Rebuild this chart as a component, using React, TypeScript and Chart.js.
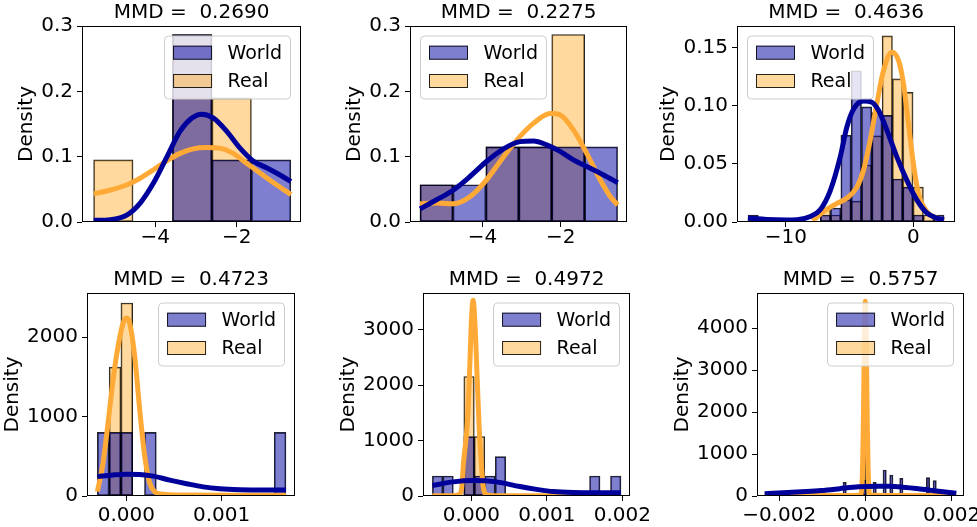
import React, { useEffect, useRef } from "react";
import { Chart, registerables } from "chart.js";

Chart.register(...registerables);

const PAGE_W = 977;
const PAGE_H = 527;
const FAMILY = '"DejaVu Sans", "Liberation Sans", sans-serif';
const FS = 20;
const FS_LEGEND = 19;
const Y_BOX = 70;
const X_BOX = 30;
const TICK_LEN = 5;
const TICK_PAD = 4;

const WORLD_FILL = "rgba(0, 0, 160, 0.5)";
const REAL_FILL = "rgba(255, 170, 40, 0.45)";
const WORLD_LINE = "#00009a";
const REAL_LINE = "#ffaa37";
const EDGE = "rgba(0, 0, 0, 0.85)";

const legendLabels = ["World", "Real"];

// ---------------- Panel 1 ----------------
const p1Title = "MMD =  0.2690";
const p1XTicks = [-4, -2];
const p1XTickLabels = ["\u22124", "\u22122"];
const p1YTicks = [0, 0.1, 0.2, 0.3];
const p1YTickLabels = ["0.0", "0.1", "0.2", "0.3"];
const p1BinStart = -5.512;
const p1BinWidth = 0.9676;
const p1World = [0, 0, 0.287, 0.095, 0.095];
const p1Real = [0.095, 0, 0.287, 0.19, 0];
const p1WorldKdeX = [-5.51, -5.1, -4.69, -4.37, -4.04, -3.71, -3.39, -3.1, -2.86, -2.57, -2.25, -1.92, -1.59, -1.27, -0.94, -0.67];
const p1WorldKdeY = [0.0025, 0.0036, 0.011, 0.029, 0.06, 0.1, 0.139, 0.159, 0.165, 0.159, 0.139, 0.113, 0.093, 0.083, 0.072, 0.062];
const p1RealKdeX = [-5.51, -5.1, -4.69, -4.37, -4.04, -3.71, -3.39, -3.07, -2.74, -2.41, -2.09, -1.76, -1.43, -1.1, -0.67];
const p1RealKdeY = [0.043, 0.049, 0.057, 0.067, 0.08, 0.094, 0.105, 0.112, 0.114, 0.113, 0.105, 0.09, 0.075, 0.06, 0.042];

// ---------------- Panel 2 ----------------
const p2Title = "MMD =  0.2275";
const p2XTicks = [-4, -2];
const p2XTickLabels = ["\u22124", "\u22122"];
const p2YTicks = [0, 0.1, 0.2, 0.3];
const p2YTickLabels = ["0.0", "0.1", "0.2", "0.3"];
const p2BinStart = -5.591;
const p2BinWidth = 0.8397;
const p2World = [0.057, 0.057, 0.115, 0.115, 0.115, 0.115];
const p2Real = [0.057, 0, 0.115, 0.115, 0.287, 0];
const p2WorldKdeX = [-5.59, -5.17, -4.74, -4.31, -3.89, -3.46, -3.04, -2.7, -2.36, -2.02, -1.68, -1.34, -0.91, -0.55];
const p2WorldKdeY = [0.02, 0.034, 0.049, 0.07, 0.093, 0.112, 0.123, 0.124, 0.118, 0.108, 0.095, 0.085, 0.072, 0.06];
const p2RealKdeX = [-5.59, -5.17, -4.74, -4.31, -3.89, -3.46, -3.04, -2.7, -2.27, -2.02, -1.68, -1.34, -1.0, -0.74, -0.55];
const p2RealKdeY = [0.028, 0.029, 0.028, 0.039, 0.065, 0.1, 0.131, 0.151, 0.166, 0.164, 0.141, 0.105, 0.065, 0.039, 0.026];

// ---------------- Panel 3 ----------------
const p3Title = "MMD =  0.4636";
const p3XTicks = [-10, 0];
const p3XTickLabels = ["\u221210", "0"];
const p3YTicks = [0, 0.05, 0.1, 0.15];
const p3YTickLabels = ["0.00", "0.05", "0.10", "0.15"];
const p3BinStart = -12.977;
const p3BinWidth = 0.8094;
const p3World = [0.006, 0, 0, 0, 0, 0, 0, 0.006, 0.012, 0.0746, 0.13, 0.099, 0.094, 0.0916, 0.037, 0.03, 0.006, 0, 0.006];
const p3Real = [0, 0, 0, 0, 0, 0, 0, 0.012, 0.006, 0.019, 0.018, 0.049, 0.074, 0.16, 0.123, 0.1115, 0.03, 0.006, 0];
const p3WorldKdeX = [-12.98, -11.5, -10.0, -9.13, -8.09, -7.31, -6.52, -5.74, -5.22, -4.7, -3.91, -3.26, -2.74, -2.08, -1.3, -0.52, 0.27, 1.05, 1.83, 2.4];
const p3WorldKdeY = [0.0034, 0.0022, 0.0018, 0.002, 0.0048, 0.0105, 0.027, 0.056, 0.0817, 0.097, 0.104, 0.103, 0.096, 0.079, 0.056, 0.036, 0.019, 0.0078, 0.0034, 0.002];
const p3RealKdeX = [-7.9, -7.05, -6.0, -5.22, -4.43, -3.91, -3.39, -2.87, -2.35, -1.69, -1.17, -0.78, -0.39, 0, 0.39, 1.05, 1.83, 2.4];
const p3RealKdeY = [0.001, 0.0091, 0.016, 0.0205, 0.03, 0.0447, 0.0703, 0.1016, 0.13, 0.146, 0.139, 0.119, 0.0845, 0.05, 0.0247, 0.0091, 0.0034, 0.001];

// ---------------- Panel 4 ----------------
const p4Title = "MMD =  0.4723";
const p4XTicks = [0, 0.001];
const p4XTickLabels = ["0.000", "0.001"];
const p4YTicks = [0, 1000, 2000];
const p4YTickLabels = ["0", "1000", "2000"];
const p4BinStart = -0.0003053;
const p4BinWidth = 0.0001239;
const p4World = [800, 800, 800, 0, 800, 0, 0, 0, 0, 0, 0, 0, 0, 0, 0, 800];
const p4Real = [0, 1622, 2429, 0, 0, 0, 0, 0, 0, 0, 0, 0, 0, 0, 0, 0];
const p4WorldKdeX = [-0.000305, -0.00014, 0, 0.00014, 0.000281, 0.000456, 0.000632, 0.000807, 0.000982, 0.001193, 0.001439, 0.001677];
const p4WorldKdeY = [244, 265, 275, 270, 250, 200, 155, 115, 92, 80, 76, 76];
const p4RealKdeX = [-0.000305, -0.000246, -0.000193, -0.00014, -0.0000877, -0.0000351, 0, 0.0000351, 0.0000877, 0.00014, 0.000193, 0.000246, 0.000298, 0.000368, 0.000596, 0.001123, 0.001677];
const p4RealKdeY = [55, 412, 916, 1462, 1882, 2176, 2239, 2176, 1756, 1084, 496, 160, 55, 25, 12, 10, 10];

// ---------------- Panel 5 ----------------
const p5Title = "MMD =  0.4972";
const p5XTicks = [0, 0.001, 0.002];
const p5XTickLabels = ["0.000", "0.001", "0.002"];
const p5YTicks = [0, 1000, 2000, 3000];
const p5YTickLabels = ["0", "1000", "2000", "3000"];
const p5BinStart = -0.0005177;
const p5BinWidth = 0.0001389;
const p5World = [361, 361, 0, 1072, 361, 361, 711, 0, 0, 0, 0, 0, 0, 0, 0, 361, 0, 361];
const p5Real = [0, 0, 0, 2157, 1072, 0, 0, 0, 0, 0, 0, 0, 0, 0, 0, 0, 0, 0];
const p5WorldKdeX = [-0.000518, -0.000243, 0.0000221, 0.000332, 0.000642, 0.000863, 0.001084, 0.00135, 0.001659, 0.001982];
const p5WorldKdeY = [190, 255, 280, 255, 170, 120, 80, 62, 58, 60];
const p5RealKdeX = [-0.000518, -0.00025, -0.000177, -0.000133, -0.000102, -0.0000752, -0.0000487, -0.0000221, 0, 0.0000221, 0.0000487, 0.0000752, 0.000102, 0.000133, 0.000164, 0.000199, 0.0003, 0.001982];
const p5RealKdeY = [3, 5, 18, 108, 650, 982, 1434, 2337, 3180, 3530, 3060, 2157, 1253, 530, 108, 24, 5, 3];

// ---------------- Panel 6 ----------------
const p6Title = "MMD =  0.5757";
const p6XTicks = [-0.002, 0, 0.002];
const p6XTickLabels = ["\u22120.002", "0.000", "0.002"];
const p6YTicks = [0, 1000, 2000, 3000, 4000];
const p6YTickLabels = ["0", "1000", "2000", "3000", "4000"];
const p6BinStart = -0.0023752;
const p6BinWidth = 0.00007737;
const p6BinCount = 58;
const p6WorldBinIndex = [7, 11, 24, 30, 33, 36, 38, 41, 49, 51];
const p6WorldBinValue = [127, 120, 326, 380, 326, 620, 501, 421, 437, 366];
const p6RealBinIndex = [30];
const p6RealBinValue = [4500];
const p6WorldKdeX = [-0.002337, -0.001795, -0.001369, -0.001021, -0.000596, -0.000286, 0.0000232, 0.000333, 0.000565, 0.000874, 0.001184, 0.001493, 0.001803, 0.002112];
const p6WorldKdeY = [55, 82, 105, 130, 175, 210, 228, 235, 232, 210, 180, 140, 100, 65];
const p6RealKdeX = [-0.002337, -0.0005, -0.00015, -0.0001, -0.000077, -0.000062, -0.000046, -0.000031, -0.000015, 0, 0.000015, 0.000031, 0.000046, 0.000062, 0.000077, 0.0001, 0.00015, 0.0005, 0.002112];
const p6RealKdeY = [10, 12, 15, 43, 288, 783, 1707, 2970, 4150, 4636, 4150, 2970, 1707, 783, 288, 43, 15, 12, 10];

// ---------------- helpers ----------------
type Pt = { x: number; y: number };

function binBars(start: number, width: number, values: number[]): Pt[] {
  return values.map((v, i) => ({ x: start + (i + 0.5) * width, y: v }));
}
function expandBins(count: number, idx: number[], vals: number[]): number[] {
  const out: number[] = new Array(count).fill(0);
  idx.forEach((k, j) => {
    out[k] = vals[j];
  });
  return out;
}
function curve(xs: number[], ys: number[]): Pt[] {
  return xs.map((x, i) => ({ x, y: ys[i] }));
}

type PanelCfg = {
  title: string;
  area: { l: number; t: number; r: number; b: number };
  xLabelPad: number;
  xMin: number;
  xMax: number;
  yMax: number;
  xTicks: number[];
  xTickLabels: string[];
  yTicks: number[];
  yTickLabels: string[];
  worldBars: Pt[];
  realBars: Pt[];
  worldKde: Pt[];
  realKde: Pt[];
  legendSide: "left" | "right";
};

const panels: PanelCfg[] = [
  {
    title: p1Title,
    area: { l: 82, t: 26, r: 301, b: 222 },
    xLabelPad: -1.5,
    xMin: -5.797, xMax: -0.424, yMax: 0.3,
    xTicks: p1XTicks, xTickLabels: p1XTickLabels, yTicks: p1YTicks, yTickLabels: p1YTickLabels,
    worldBars: binBars(p1BinStart, p1BinWidth, p1World),
    realBars: binBars(p1BinStart, p1BinWidth, p1Real),
    worldKde: curve(p1WorldKdeX, p1WorldKdeY),
    realKde: curve(p1RealKdeX, p1RealKdeY),
    legendSide: "right",
  },
  {
    title: p2Title,
    area: { l: 410, t: 26, r: 627, b: 222 },
    xLabelPad: -1.5,
    xMin: -5.847, xMax: -0.313, yMax: 0.3,
    xTicks: p2XTicks, xTickLabels: p2XTickLabels, yTicks: p2YTicks, yTickLabels: p2YTickLabels,
    worldBars: binBars(p2BinStart, p2BinWidth, p2World),
    realBars: binBars(p2BinStart, p2BinWidth, p2Real),
    worldKde: curve(p2WorldKdeX, p2WorldKdeY),
    realKde: curve(p2RealKdeX, p2RealKdeY),
    legendSide: "left",
  },
  {
    title: p3Title,
    area: { l: 737, t: 26, r: 955, b: 222 },
    xLabelPad: -1.5,
    xMin: -13.84, xMax: 3.264, yMax: 0.1685,
    xTicks: p3XTicks, xTickLabels: p3XTickLabels, yTicks: p3YTicks, yTickLabels: p3YTickLabels,
    worldBars: binBars(p3BinStart, p3BinWidth, p3World),
    realBars: binBars(p3BinStart, p3BinWidth, p3Real),
    worldKde: curve(p3WorldKdeX, p3WorldKdeY),
    realKde: curve(p3RealKdeX, p3RealKdeY),
    legendSide: "left",
  },
  {
    title: p4Title,
    area: { l: 87, t: 293, r: 295, b: 496 },
    xLabelPad: 3,
    xMin: -0.000414, xMax: 0.001772, yMax: 2555,
    xTicks: p4XTicks, xTickLabels: p4XTickLabels, yTicks: p4YTicks, yTickLabels: p4YTickLabels,
    worldBars: binBars(p4BinStart, p4BinWidth, p4World),
    realBars: binBars(p4BinStart, p4BinWidth, p4Real),
    worldKde: curve(p4WorldKdeX, p4WorldKdeY),
    realKde: curve(p4RealKdeX, p4RealKdeY),
    legendSide: "right",
  },
  {
    title: p5Title,
    area: { l: 423, t: 293, r: 630, b: 496 },
    xLabelPad: 3,
    xMin: -0.000642, xMax: 0.002102, yMax: 3663,
    xTicks: p5XTicks, xTickLabels: p5XTickLabels, yTicks: p5YTicks, yTickLabels: p5YTickLabels,
    worldBars: binBars(p5BinStart, p5BinWidth, p5World),
    realBars: binBars(p5BinStart, p5BinWidth, p5Real),
    worldKde: curve(p5WorldKdeX, p5WorldKdeY),
    realKde: curve(p5RealKdeX, p5RealKdeY),
    legendSide: "right",
  },
  {
    title: p6Title,
    area: { l: 757, t: 293, r: 964, b: 496 },
    xLabelPad: 3,
    xMin: -0.002514, xMax: 0.00229, yMax: 4835,
    xTicks: p6XTicks, xTickLabels: p6XTickLabels, yTicks: p6YTicks, yTickLabels: p6YTickLabels,
    worldBars: binBars(p6BinStart, p6BinWidth, expandBins(p6BinCount, p6WorldBinIndex, p6WorldBinValue)),
    realBars: binBars(p6BinStart, p6BinWidth, expandBins(p6BinCount, p6RealBinIndex, p6RealBinValue)),
    worldKde: curve(p6WorldKdeX, p6WorldKdeY),
    realKde: curve(p6RealKdeX, p6RealKdeY),
    legendSide: "right",
  },
];

const fontStr = `${FS}px ${FAMILY}`;
const legendFontStr = `${FS_LEGEND}px ${FAMILY}`;

function makeDecor(cfg: PanelCfg) {
  return {
    id: "decor",
    afterDraw(chart: any) {
      const ctx: CanvasRenderingContext2D = chart.ctx;
      const a = chart.chartArea;
      ctx.save();
      // frame (spines)
      ctx.strokeStyle = "#000";
      ctx.lineWidth = 1;
      ctx.strokeRect(a.left + 0.5, a.top + 0.5, a.right - a.left - 1, a.bottom - a.top - 1);

      ctx.font = fontStr;
      ctx.fillStyle = "#000";

      // title
      ctx.textAlign = "center";
      ctx.textBaseline = "alphabetic";
      ctx.fillText(cfg.title, (a.left + a.right) / 2, a.top - 8.5);

      // y label
      let maxW = 0;
      cfg.yTickLabels.forEach((s) => {
        maxW = Math.max(maxW, ctx.measureText(s).width);
      });
      const lx = a.left - TICK_LEN - TICK_PAD - maxW - 9;
      ctx.save();
      ctx.translate(lx, (a.top + a.bottom) / 2);
      ctx.rotate(-Math.PI / 2);
      ctx.textAlign = "center";
      ctx.textBaseline = "alphabetic";
      ctx.fillText("Density", 0, 0);
      ctx.restore();

      // legend
      ctx.font = legendFontStr;
      let tw = 0;
      legendLabels.forEach((s) => {
        tw = Math.max(tw, ctx.measureText(s).width);
      });
      const padX = 8.5;
      const patchW = 39;
      const patchH = 14;
      const gap = 15.5;
      const boxW = padX + patchW + gap + tw + padX;
      const boxH = 63;
      const x0 = cfg.legendSide === "right" ? a.right - 10.5 - boxW : a.left + 10.5;
      const y0 = a.top + 10;
      ctx.beginPath();
      (ctx as any).roundRect(x0, y0, boxW, boxH, 4);
      ctx.fillStyle = "rgba(255,255,255,0.8)";
      ctx.fill();
      ctx.strokeStyle = "#cccccc";
      ctx.lineWidth = 1;
      ctx.stroke();
      const rows = [
        { label: legendLabels[0], fill: WORLD_FILL, cy: y0 + 16.7 },
        { label: legendLabels[1], fill: REAL_FILL, cy: y0 + 45 },
      ];
      rows.forEach((r) => {
        const px = x0 + padX;
        const py = r.cy - patchH / 2;
        ctx.fillStyle = r.fill;
        ctx.fillRect(px, py, patchW, patchH);
        ctx.strokeStyle = EDGE;
        ctx.lineWidth = 1;
        ctx.strokeRect(px + 0.5, py + 0.5, patchW - 1, patchH - 1);
        ctx.fillStyle = "#000";
        ctx.textAlign = "left";
        ctx.textBaseline = "middle";
        ctx.fillText(r.label, px + patchW + gap, r.cy + 1);
      });
      ctx.restore();
    },
  };
}

function PanelChart({ cfg }: { cfg: PanelCfg }) {
  const ref = useRef<HTMLCanvasElement>(null);
  useEffect(() => {
    const canvas = ref.current;
    if (!canvas) return;
    const a = cfg.area;
    const tickFont = { family: FAMILY, size: FS };
    const barBorder = (c: any) => (c.raw && c.raw.y > 0 ? 1 : 0);
    const chart = new Chart(canvas, {
      type: "bar",
      data: {
        datasets: [
          {
            type: "line",
            label: "World KDE",
            data: cfg.worldKde,
            borderColor: WORLD_LINE,
            borderWidth: 5,
            pointRadius: 0,
            cubicInterpolationMode: "monotone",
            borderJoinStyle: "round",
            borderCapStyle: "butt",
            fill: false,
            clip: 0,
            order: 0,
          } as any,
          {
            type: "line",
            label: "Real KDE",
            data: cfg.realKde,
            borderColor: REAL_LINE,
            borderWidth: 5,
            pointRadius: 0,
            cubicInterpolationMode: "monotone",
            borderJoinStyle: "round",
            borderCapStyle: "butt",
            fill: false,
            clip: 0,
            order: 1,
          } as any,
          {
            type: "bar",
            label: "World",
            data: cfg.worldBars,
            backgroundColor: WORLD_FILL,
            borderColor: EDGE,
            borderWidth: barBorder,
            borderSkipped: false,
            grouped: false,
            barPercentage: 1,
            categoryPercentage: 1,
            clip: 0,
            order: 2,
          } as any,
          {
            type: "bar",
            label: "Real",
            data: cfg.realBars,
            backgroundColor: REAL_FILL,
            borderColor: EDGE,
            borderWidth: barBorder,
            borderSkipped: false,
            grouped: false,
            barPercentage: 1,
            categoryPercentage: 1,
            clip: 0,
            order: 3,
          } as any,
        ],
      },
      options: {
        responsive: false,
        animation: false,
        devicePixelRatio: 1,
        events: [],
        layout: {
          padding: {
            left: a.l - Y_BOX,
            top: a.t,
            right: PAGE_W - a.r,
            bottom: PAGE_H - a.b - X_BOX,
          },
        },
        plugins: {
          legend: { display: false },
          tooltip: { enabled: false },
          title: { display: false },
        },
        scales: {
          x: {
            type: "linear",
            min: cfg.xMin,
            max: cfg.xMax,
            offset: false,
            afterFit: (s: any) => {
              s.height = X_BOX;
              s.paddingLeft = 0;
              s.paddingRight = 0;
              s.paddingTop = 0;
              s.paddingBottom = 0;
            },
            afterBuildTicks: (s: any) => {
              s.ticks = cfg.xTicks.map((v) => ({ value: v }));
            },
            ticks: {
              callback: (_v: any, i: number) => cfg.xTickLabels[i],
              font: tickFont,
              color: "#000",
              padding: cfg.xLabelPad,
              maxRotation: 0,
              minRotation: 0,
              autoSkip: false,
            },
            grid: {
              offset: false,
              drawOnChartArea: false,
              drawTicks: true,
              tickLength: TICK_LEN,
              color: "#000",
              lineWidth: 1,
            },
            border: { display: false },
          },
          y: {
            type: "linear",
            min: 0,
            max: cfg.yMax,
            afterFit: (s: any) => {
              s.width = Y_BOX;
              s.paddingLeft = 0;
              s.paddingRight = 0;
              s.paddingTop = 0;
              s.paddingBottom = 0;
            },
            afterBuildTicks: (s: any) => {
              s.ticks = cfg.yTicks.map((v) => ({ value: v }));
            },
            ticks: {
              callback: (_v: any, i: number) => cfg.yTickLabels[i],
              font: tickFont,
              color: "#000",
              padding: TICK_PAD,
              autoSkip: false,
            },
            grid: {
              drawOnChartArea: false,
              drawTicks: true,
              tickLength: TICK_LEN,
              color: "#000",
              lineWidth: 1,
            },
            border: { display: false },
          },
        },
      } as any,
      plugins: [makeDecor(cfg)],
    });
    return () => chart.destroy();
  }, [cfg]);
  return (
    <canvas
      ref={ref}
      width={PAGE_W}
      height={PAGE_H}
      style={{ position: "absolute", left: 0, top: 0, width: PAGE_W, height: PAGE_H, display: "block" }}
    />
  );
}

export default function App() {
  return (
    <div
      style={{
        position: "absolute",
        left: 0,
        top: 0,
        width: PAGE_W,
        height: PAGE_H,
        background: "#fff",
        overflow: "hidden",
      }}
    >
      {panels.map((p, i) => (
        <PanelChart key={i} cfg={p} />
      ))}
    </div>
  );
}
